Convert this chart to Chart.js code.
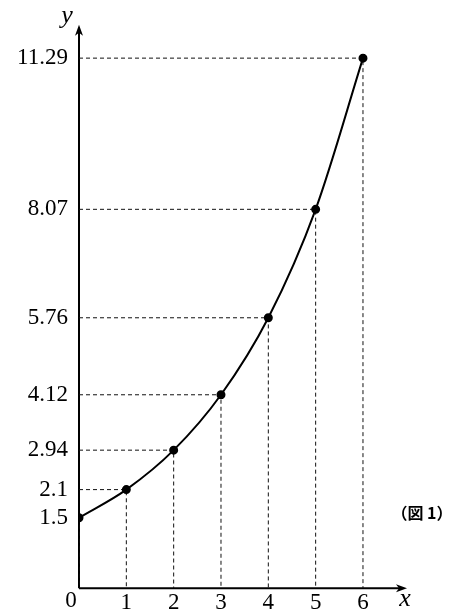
<!DOCTYPE html>
<html>
<head>
<meta charset="utf-8">
<script src="https://cdn.jsdelivr.net/npm/chart.js@4/dist/chart.umd.min.js"></script>
<style>
  html, body { margin: 0; padding: 0; background: #fff; }
</style>
</head>
<body>
<canvas id="graph" width="465" height="613"></canvas>
<script>
var xValues = [0, 1, 2, 3, 4, 5, 6];
var yValues = [1.5, 2.1, 2.94, 4.12, 5.76, 8.07, 11.29];
var xLabels = ['0', '1', '2', '3', '4', '5', '6'];
var yLabels = ['1.5', '2.1', '2.94', '4.12', '5.76', '8.07', '11.29'];
var figLabel = '（図 1）';

var serif = '"Liberation Serif", "DejaVu Serif", serif';

// dashed guides: from y axis to the point, then down to the x axis
var guides = xValues.map(function (xv, i) {
    return {
        data: [{ x: 0, y: yValues[i] }, { x: xv, y: yValues[i] }, { x: xv, y: 0 }],
        borderColor: '#111',
        borderWidth: 1,
        borderDash: [4, 3],
        pointRadius: 0,
        showLine: true,
        tension: 0,
        order: 2
    };
});

var curve = {
    data: xValues.map(function (xv, i) { return { x: xv, y: yValues[i] }; }),
    borderColor: '#000',
    backgroundColor: '#000',
    borderWidth: 2,
    pointRadius: 3.5,
    showLine: true,
    cubicInterpolationMode: 'monotone',
    order: 1
};

function arrow(ctx, x, y, dir) {
    ctx.beginPath();
    if (dir === 'up') {
        ctx.moveTo(x, y);
        ctx.lineTo(x - 4, y + 11);
        ctx.lineTo(x, y + 8);
        ctx.lineTo(x + 4, y + 11);
    } else {
        ctx.moveTo(x, y);
        ctx.lineTo(x - 11, y - 4);
        ctx.lineTo(x - 8, y);
        ctx.lineTo(x - 11, y + 4);
    }
    ctx.closePath();
    ctx.fill();
}

var axesPlugin = {
    id: 'axesArrows',
    beforeDatasetsDraw: function (chart) {
        var ctx = chart.ctx;
        var xs = chart.scales.x, ys = chart.scales.y;
        var x0 = xs.getPixelForValue(0), y0 = ys.getPixelForValue(0);
        ctx.save();
        ctx.strokeStyle = '#000';
        ctx.fillStyle = '#000';
        ctx.lineWidth = 2;
        ctx.beginPath();
        ctx.moveTo(x0, y0);
        ctx.lineTo(x0, ys.top + 6);
        ctx.moveTo(x0, y0);
        ctx.lineTo(xs.right - 6, y0);
        ctx.stroke();
        arrow(ctx, x0, ys.top, 'up');
        arrow(ctx, xs.right, y0, 'right');
        ctx.restore();
    },
    afterDraw: function (chart) {
        var ctx = chart.ctx;
        var xs = chart.scales.x, ys = chart.scales.y;
        var x0 = xs.getPixelForValue(0), y0 = ys.getPixelForValue(0);
        ctx.save();
        ctx.fillStyle = '#000';
        ctx.textAlign = 'center';
        ctx.textBaseline = 'middle';
        ctx.font = '23px ' + serif;
        ctx.fillText(xLabels[0], x0 - 8, y0 + 13);
        ctx.font = 'italic 26px ' + serif;
        ctx.fillText('y', x0 - 12, ys.top - 9);
        ctx.fillText('x', xs.right - 2, y0 + 11);
        ctx.font = 'bold 16px "Noto Sans CJK JP", sans-serif';
        ctx.fillText(figLabel, 422, 513);
        ctx.restore();
    }
};

var chart = new Chart(document.getElementById('graph'), {
    type: 'scatter',
    data: { datasets: guides.concat([curve]) },
    options: {
        responsive: false,
        animation: false,
        events: [],
        layout: { padding: { left: 0, right: 58, top: 23, bottom: 0 } },
        plugins: { legend: { display: false }, tooltip: { enabled: false } },
        scales: {
            x: {
                type: 'linear',
                min: 0,
                max: 6.93,
                grid: { display: false, drawTicks: false },
                border: { display: false },
                afterFit: function (scale) { scale.height = 22; },
                afterBuildTicks: function (scale) {
                    scale.ticks = xValues.map(function (v) { return { value: v }; });
                },
                ticks: {
                    autoSkip: false,
                    maxRotation: 0,
                    padding: 1,
                    color: '#000',
                    font: { family: serif, size: 23 },
                    callback: function (v, i) { return i === 0 ? '' : xLabels[i]; }
                }
            },
            y: {
                type: 'linear',
                min: 0,
                max: 12,
                grid: { display: false, drawTicks: false },
                border: { display: false },
                afterFit: function (scale) { scale.width = 79; },
                afterBuildTicks: function (scale) {
                    scale.ticks = yValues.map(function (v) { return { value: v }; });
                },
                ticks: {
                    autoSkip: false,
                    padding: 11,
                    color: '#000',
                    font: { family: serif, size: 23 },
                    callback: function (v, i) { return yLabels[i]; }
                }
            }
        }
    },
    plugins: [axesPlugin]
});
</script>
</body>
</html>
